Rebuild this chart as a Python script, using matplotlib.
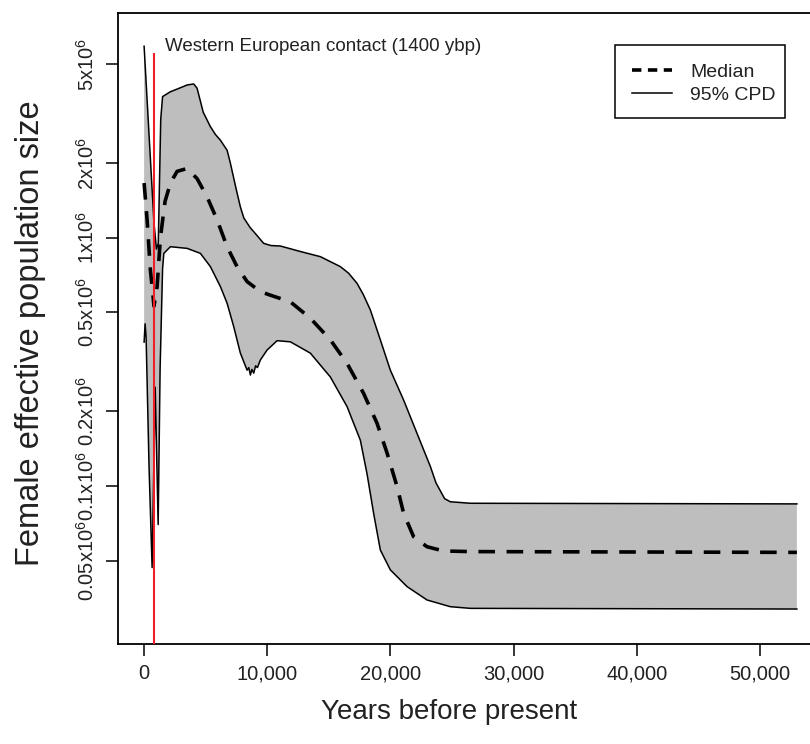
import numpy as np
import matplotlib
matplotlib.use("Agg")
import matplotlib.pyplot as plt
from matplotlib.ticker import FixedLocator, FixedFormatter, NullLocator, FuncFormatter
from matplotlib.lines import Line2D
from matplotlib.patches import Rectangle

plt.rcParams["font.family"] = ["Liberation Sans", "DejaVu Sans"]
plt.rcParams["mathtext.fontset"] = "custom"
plt.rcParams["mathtext.rm"] = "Liberation Sans"
plt.rcParams["mathtext.it"] = "Liberation Sans"
plt.rcParams["mathtext.bf"] = "Liberation Sans"

# 95% CPD upper bound (years before present, female Ne)
upper_years = [0, 400, 800, 1000, 1150, 1350, 1500, 2135, 2808, 3490, 4026, 4300,
               4800, 5381, 5800, 6193, 6737, 7000, 7500, 7816, 8100, 8600, 9100,
               9708, 10300, 11063, 12687, 14310, 15933, 16600, 17289, 17800, 18369,
               19180, 19992, 21071, 22159, 23240, 23700, 24400, 24862, 26485, 53000]
upper_ne = [5.9e6, 2.6e6, 1.15e6, 0.9e6, 0.95e6, 3.0e6, 3.7e6, 3.87e6, 3.99e6, 4.12e6,
            4.16e6, 4.0e6, 3.2e6, 2.80e6, 2.6e6, 2.47e6, 2.25e6, 2.0e6, 1.55e6,
            1.33e6, 1.2e6, 1.1e6, 1.03e6, 0.949e6, 0.93e6, 0.926e6, 0.88e6, 0.839e6,
            0.765e6, 0.72e6, 0.655e6, 0.59e6, 0.512e6, 0.388e6, 0.293e6, 0.222e6,
            0.163e6, 0.120e6, 0.103e6, 0.089e6, 86.5e3, 85.3e3, 84.8e3]

# 95% CPD lower bound
lower_years = [0, 80, 160, 400, 650, 900, 1140, 1300, 1500, 1600, 2135, 3490, 4570,
               5381, 6193, 6737, 7273, 7816, 8360, 8500, 8628, 8750, 8900, 9050, 9200,
               9440, 9984, 10795, 11875, 13498, 15122, 16477, 17557, 18100, 18637,
               19180, 19992, 21347, 22971, 24862, 26485, 53000]
lower_ne = [0.38e6, 0.45e6, 0.40e6, 0.12e6, 47e3, 0.25e6, 70e3, 0.3e6, 0.75e6, 0.865e6,
            0.92e6, 0.906e6, 0.865e6, 0.765e6, 0.636e6, 0.545e6, 0.439e6, 0.343e6,
            0.293e6, 0.30e6, 0.28e6, 0.295e6, 0.285e6, 0.305e6, 0.30e6, 0.322e6,
            0.353e6, 0.385e6, 0.381e6, 0.343e6, 0.275e6, 0.209e6, 0.153e6, 0.112e6,
            77.6e3, 55.3e3, 46e3, 39.4e3, 34.8e3, 32.7e3, 32.2e3, 32.0e3]

# median
median_years = [0, 243, 511, 730, 800, 1055, 1323, 1700, 2135, 2680, 3490, 4300, 5114,
                5925, 6737, 7549, 8360, 9440, 10252, 11875, 13498, 15122, 16477,
                17825, 18912, 19724, 20536, 21071, 21883, 22971, 24318, 26485, 53000]
median_ne = [1.66e6, 1.18e6, 0.74e6, 0.578e6, 0.53e6, 0.635e6, 1.0e6, 1.4e6, 1.66e6,
             1.85e6, 1.90e6, 1.73e6, 1.46e6, 1.18e6, 0.92e6, 0.764e6, 0.666e6,
             0.607e6, 0.587e6, 0.552e6, 0.474e6, 0.388e6, 0.312e6, 0.236e6,
             0.179e6, 0.136e6, 99.6e3, 77.7e3, 62.5e3, 57.0e3, 54.8e3, 54.5e3, 54.1e3]

contact_year = 800
contact_label = "Western European contact (1400 ybp)"

x_ticks = [0, 10000, 20000, 30000, 40000, 50000]
y_ticks = [5e6, 2e6, 1e6, 0.5e6, 0.2e6, 0.1e6, 0.05e6]
y_tick_labels = ["5x10$^6$", "2x10$^6$", "1x10$^6$", "0.5x10$^6$", "0.2x10$^6$",
                 "0.1x10$^6$", "0.05x10$^6$"]

W, H = 810, 744
fig = plt.figure(figsize=(W / 100, H / 100), dpi=100)
# plot box runs past the right edge of the picture, as in the reference
ax = fig.add_axes([118 / W, 1 - 644 / H, (823 - 118) / W, (644 - 13) / H])
ax.set_yscale("log")
ax.set_xlim(-2120, 55120)
ax.set_ylim(23140, 8.03e6)

poly_x = np.r_[upper_years, lower_years[::-1]]
poly_y = np.r_[upper_ne, lower_ne[::-1]]
ax.fill(poly_x, poly_y, color="#bebebe", lw=0, zorder=1)
ax.plot(upper_years, upper_ne, color="black", lw=1.1, zorder=2)
ax.plot(lower_years, lower_ne, color="black", lw=1.1, zorder=2)
ax.plot(median_years, median_ne, color="black", lw=2.6, dashes=(4.6, 3.2),
        solid_capstyle="butt", zorder=3)

ax.vlines(contact_year, ax.get_ylim()[0], 5.54e6, color="#ee1f2b", lw=1.5, zorder=4)
ax.text(1730, 5.87e6, contact_label, ha="left", va="center", fontsize=13.5,
        color="#222222")

ax.xaxis.set_major_locator(FixedLocator(x_ticks))
ax.xaxis.set_major_formatter(FuncFormatter(lambda v, p: f"{int(v):,}"))
ax.yaxis.set_major_locator(FixedLocator(y_ticks))
ax.yaxis.set_major_formatter(FixedFormatter(y_tick_labels))
ax.yaxis.set_minor_locator(NullLocator())
ax.tick_params(axis="both", direction="out", length=8.5, width=1.1, labelsize=14.5,
               labelcolor="#222222", pad=6)
for t in ax.get_yticklabels():
    t.set_rotation(90)
    t.set_va("center")

for s in ax.spines.values():
    s.set_linewidth(1.3)

ax.set_xlabel("Years before present", fontsize=20, color="#222222")
ax.set_ylabel("Female effective population size", fontsize=23.5, color="#222222")
ax.xaxis.set_label_coords((449 - 118) / (823 - 118), -(712 - 644) / (644 - 13))
ax.yaxis.set_label_coords(-(118 - 30) / (823 - 118), (644 - 333) / (644 - 13))
ax.xaxis.label.set_va("center")
ax.yaxis.label.set_va("center")

# legend entries without frame, box drawn separately (R-style legend box)
handles = [Line2D([], [], color="black", lw=2.6, dashes=(2.6, 1.8)),
           Line2D([], [], color="black", lw=1.1)]
leg = fig.legend(handles, ["Median", "95% CPD"], loc="upper left",
                 bbox_to_anchor=(632 / W, 1 - 63 / H), bbox_transform=fig.transFigure,
                 fontsize=14, frameon=False, handlelength=2.06, handletextpad=0.93,
                 borderpad=0, labelspacing=0.28, borderaxespad=0)
for t in leg.get_texts():
    t.set_color("#222222")
fig.patches.append(Rectangle((615 / W, 1 - 118 / H), 170 / W, 73 / H,
                             transform=fig.transFigure, fill=False,
                             edgecolor="black", lw=1.1))

fig.savefig("out.png", dpi=100)
